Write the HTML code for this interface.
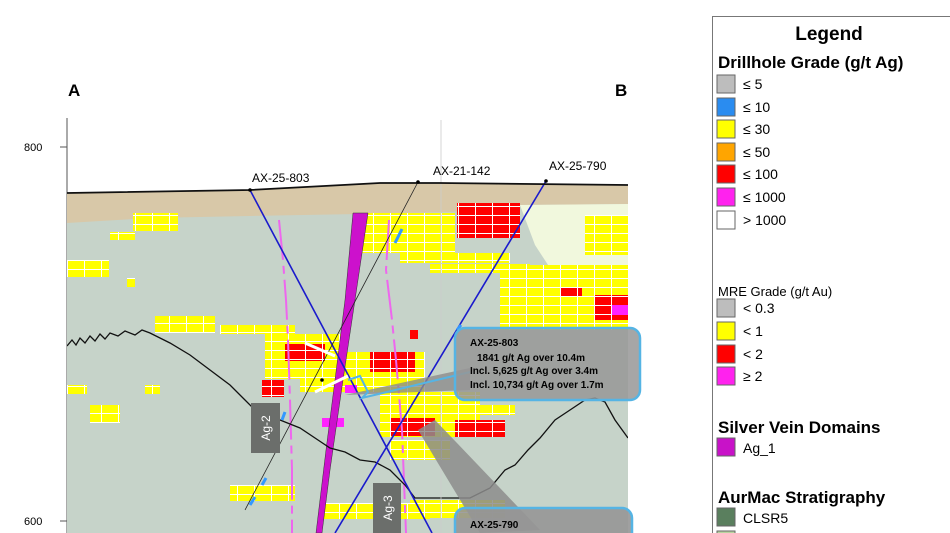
<!DOCTYPE html>
<html><head><meta charset="utf-8"><style>
html,body{margin:0;padding:0;background:#fff;width:950px;height:533px;overflow:hidden;font-family:"Liberation Sans",sans-serif}
</style></head><body>
<svg width="950" height="533" viewBox="0 0 950 533" xmlns="http://www.w3.org/2000/svg" style="position:absolute;left:0;top:0">
<defs>
<pattern id="y" width="17" height="9" patternUnits="userSpaceOnUse"><rect width="17" height="9" fill="#ffff00"/><path d="M0 8.5H17M16.5 0V9" stroke="#fff" stroke-width="1"/></pattern>
<pattern id="r" width="17" height="9" patternUnits="userSpaceOnUse"><rect width="17" height="9" fill="#ff0000"/><path d="M0 8.5H17M16.5 0V9" stroke="#fff" stroke-width="1"/></pattern>
<clipPath id="pc"><rect x="67" y="120" width="561" height="413"/></clipPath>
</defs>
<text x="68" y="96" font-size="17" font-weight="bold">A</text>
<text x="615" y="96" font-size="17" font-weight="bold">B</text>
<line x1="67" y1="118" x2="67" y2="533" stroke="#555" stroke-width="1"/>
<line x1="60" y1="147" x2="67" y2="147" stroke="#555"/>
<line x1="60" y1="521" x2="67" y2="521" stroke="#555"/>
<text x="24" y="151" font-size="11">800</text>
<text x="24" y="525" font-size="11">600</text>
<g clip-path="url(#pc)">
<polygon points="67,193 250,190 380,183 440,183 628,185 628,533 67,533" fill="#c6d3c9"/>
<polygon points="67,193 250,190 380,183 440,183 628,185 628,204 520,205 450,212 360,214 250,216 150,218 67,223" fill="#d8c8a8"/>
<polygon points="520,205 628,204 628,312 600,305 575,290 550,268 535,245" fill="#f1f8dd"/>
<g>
<rect x="133" y="213" width="45" height="18" fill="url(#y)"/>
<rect x="110" y="232" width="25" height="8" fill="url(#y)"/>
<rect x="67" y="260" width="42" height="17" fill="url(#y)"/>
<rect x="127" y="278" width="8" height="9" fill="url(#y)"/>
<rect x="155" y="316" width="60" height="17" fill="url(#y)"/>
<rect x="220" y="325" width="75" height="9" fill="url(#y)"/>
<rect x="265" y="334" width="80" height="45" fill="url(#y)"/>
<rect x="300" y="352" width="125" height="40" fill="url(#y)"/>
<rect x="360" y="213" width="95" height="40" fill="url(#y)"/>
<rect x="400" y="253" width="110" height="10" fill="url(#y)"/>
<rect x="430" y="264" width="100" height="9" fill="url(#y)"/>
<rect x="500" y="265" width="128" height="65" fill="url(#y)"/>
<rect x="585" y="215" width="43" height="40" fill="url(#y)"/>
<rect x="380" y="392" width="100" height="45" fill="url(#y)"/>
<rect x="440" y="405" width="75" height="10" fill="url(#y)"/>
<rect x="390" y="440" width="60" height="20" fill="url(#y)"/>
<rect x="230" y="485" width="65" height="16" fill="url(#y)"/>
<rect x="320" y="503" width="110" height="16" fill="url(#y)"/>
<rect x="410" y="500" width="95" height="18" fill="url(#y)"/>
<rect x="67" y="385" width="20" height="9" fill="url(#y)"/>
<rect x="90" y="405" width="30" height="18" fill="url(#y)"/>
<rect x="145" y="385" width="15" height="9" fill="url(#y)"/>
</g>
<g>
<rect x="457" y="203" width="63" height="35" fill="url(#r)"/>
<rect x="285" y="344" width="40" height="17" fill="url(#r)"/>
<rect x="262" y="380" width="22" height="17" fill="url(#r)"/>
<rect x="370" y="352" width="45" height="20" fill="url(#r)"/>
<rect x="390" y="418" width="45" height="18" fill="url(#r)"/>
<rect x="455" y="420" width="50" height="17" fill="url(#r)"/>
<rect x="595" y="295" width="33" height="25" fill="url(#r)"/>
<rect x="560" y="288" width="22" height="9" fill="url(#r)"/>
<rect x="410" y="330" width="8" height="9" fill="#ff0000"/>
<rect x="612" y="305" width="16" height="10" fill="#ff22ff"/>
<rect x="322" y="418" width="22" height="9" fill="#ff22ff"/>
<rect x="345" y="385" width="12" height="8" fill="#ff22ff"/>
</g>
<path d="M279 220 L283 260 L286 300 L288 340 L290 400 L292 470 L292 533" stroke="#ee66ee" stroke-width="2" fill="none" stroke-dasharray="40 6 8 6"/>
<path d="M389 220 L386 270 L392 320 L396 360 L402 430 L406 533" stroke="#ee66ee" stroke-width="2" fill="none" stroke-dasharray="40 6 8 6"/>
<polygon points="353,213 368,213 352,320 343,380 330,470 322,533 316,533 326,450 335,380 345,300" fill="#cc11cc" stroke="#333" stroke-width="0.5"/>
<polyline points="67,346 72,340 76,345 80,338 85,343 90,336 95,341 100,334 105,339 110,333 118,336 125,331 135,335 142,330 150,333 170,343 190,355 210,370 230,385 245,400 260,415 280,420 300,428 318,440 330,448 345,452 360,460 375,462 390,470 405,485 415,498 470,498 490,488 505,470 515,465 528,450 540,438 555,420 570,410 585,400 595,398 605,402 615,420 628,438" fill="none" stroke="#111" stroke-width="1.3"/>
<line x1="441" y1="118" x2="441" y2="533" stroke="#ccc" stroke-width="0.8"/>
<line x1="250" y1="190" x2="432" y2="533" stroke="#1a1acc" stroke-width="1.6"/>
<line x1="418" y1="182" x2="245" y2="510" stroke="#222" stroke-width="0.8"/>
<line x1="546" y1="181" x2="335" y2="533" stroke="#1a1acc" stroke-width="1.6"/>
<line x1="305" y1="343" x2="335" y2="356" stroke="#fff" stroke-width="3"/>
<line x1="315" y1="392" x2="348" y2="376" stroke="#fff" stroke-width="3"/>
<g stroke="#3399ff" stroke-width="3">
<line x1="395" y1="243" x2="402" y2="229"/><line x1="282" y1="420" x2="285" y2="412"/><line x1="250" y1="505" x2="255" y2="497"/><line x1="262" y1="485" x2="266" y2="478"/><line x1="457" y1="330" x2="461" y2="325"/>
</g>
<polyline points="67,193 250,190 380,183 440,183 628,185" fill="none" stroke="#111" stroke-width="1.8"/>
<g fill="#000"><circle cx="250" cy="190" r="1.8"/><circle cx="418" cy="182" r="1.8"/><circle cx="546" cy="181" r="1.8"/><circle cx="322" cy="380" r="1.8"/></g>
</g>
<text x="252" y="182" font-size="12">AX-25-803</text>
<text x="433" y="175" font-size="12">AX-21-142</text>
<text x="549" y="170" font-size="12">AX-25-790</text>
<polygon points="345,395 470,368 470,390" fill="rgba(140,140,140,0.8)"/>
<polyline points="348,380 360,376 368,392 362,398 470,372" fill="none" stroke="#55b4e4" stroke-width="2"/>
<rect x="455" y="328" width="185" height="72" rx="10" fill="rgba(150,150,150,0.85)" stroke="#55b4e4" stroke-width="2.5"/>
<text x="470" y="346" font-size="10" font-weight="bold">AX-25-803</text>
<text x="477" y="361" font-size="10" font-weight="bold">1841 g/t Ag over 10.4m</text>
<text x="470" y="374" font-size="10" font-weight="bold">Incl. 5,625 g/t Ag over 3.4m</text>
<text x="470" y="388" font-size="10" font-weight="bold">Incl. 10,734 g/t Ag over 1.7m</text>
<polygon points="418,430 435,420 540,530 480,533" fill="rgba(140,140,140,0.85)"/>
<rect x="455" y="508" width="177" height="40" rx="10" fill="rgba(150,150,150,0.9)" stroke="#55b4e4" stroke-width="2.5"/>
<text x="470" y="528" font-size="10" font-weight="bold">AX-25-790</text>
<rect x="251" y="403" width="29" height="50" fill="#6b6e6b"/>
<text transform="translate(270,428) rotate(-90)" font-size="12" fill="#fff" text-anchor="middle">Ag-2</text>
<rect x="373" y="483" width="28" height="50" fill="#6b6e6b"/>
<text transform="translate(392,508) rotate(-90)" font-size="12" fill="#fff" text-anchor="middle">Ag-3</text>
<rect x="712.5" y="16.5" width="240" height="520" fill="#fff" stroke="#777"/>
<text x="829" y="40" font-size="19" font-weight="bold" text-anchor="middle">Legend</text>
<text x="718" y="68" font-size="17" font-weight="bold">Drillhole Grade (g/t Ag)</text>
<g font-size="14" stroke="#666">
<rect x="717" y="75" width="18" height="18" fill="#bdbdbd"/>
<rect x="717" y="98" width="18" height="18" fill="#2a8cf0"/>
<rect x="717" y="120" width="18" height="18" fill="#ffff00"/>
<rect x="717" y="143" width="18" height="18" fill="#ffa500"/>
<rect x="717" y="165" width="18" height="18" fill="#ff0000"/>
<rect x="717" y="188" width="18" height="18" fill="#ff22ee"/>
<rect x="717" y="211" width="18" height="18" fill="#fff"/>
<rect x="717" y="299" width="18" height="18" fill="#bdbdbd"/>
<rect x="717" y="322" width="18" height="18" fill="#ffff00"/>
<rect x="717" y="345" width="18" height="18" fill="#ff0000"/>
<rect x="717" y="367" width="18" height="18" fill="#ff22ee"/>
<rect x="717" y="438" width="18" height="18" fill="#c812c8"/>
<rect x="717" y="508" width="18" height="18" fill="#5a7f5e"/>
<rect x="717" y="531" width="18" height="18" fill="#b8d4a0"/>
</g>
<g font-size="14">
<text x="743" y="89">≤ 5</text><text x="743" y="112">≤ 10</text><text x="743" y="134">≤ 30</text><text x="743" y="157">≤ 50</text><text x="743" y="179">≤ 100</text><text x="743" y="202">≤ 1000</text><text x="743" y="225">&gt; 1000</text>
<text x="718" y="296" font-size="13">MRE Grade (g/t Au)</text>
<text x="743" y="313">&lt; 0.3</text><text x="743" y="336">&lt; 1</text><text x="743" y="359">&lt; 2</text><text x="743" y="381">≥ 2</text>
<text x="743" y="453">Ag_1</text><text x="743" y="523">CLSR5</text>
</g>
<text x="718" y="433" font-size="17" font-weight="bold">Silver Vein Domains</text>
<text x="718" y="503" font-size="17" font-weight="bold">AurMac Stratigraphy</text>
</svg>
</body></html>
